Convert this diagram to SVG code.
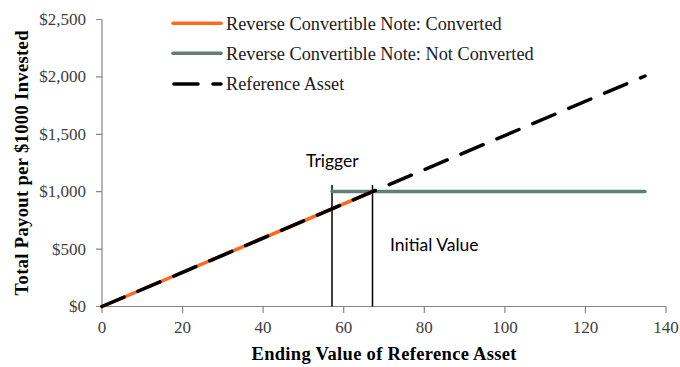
<svg xmlns="http://www.w3.org/2000/svg" width="680" height="367" viewBox="0 0 680 367">
<style>
.ax{stroke:#868686;stroke-width:1.2;fill:none}
.tl{font-family:"Liberation Serif",serif;font-size:17px;fill:#404040}
.tt{font-family:"Liberation Serif",serif;font-size:18.5px;font-weight:bold;fill:#000}
.lg{font-family:"Liberation Serif",serif;font-size:18.3px;fill:#202020}
.an{font-family:Lato,"Liberation Sans",sans-serif;font-size:17.5px;fill:#000}
.or{stroke:#ff6a1f;stroke-width:3.5;fill:none;stroke-linecap:round}
.gr{stroke:#5f7f77;stroke-width:3.5;fill:none;stroke-linecap:round}
.rf{stroke:#000;stroke-width:3.5;fill:none;stroke-linecap:round;stroke-dasharray:24 15}
.vl{stroke:#000;stroke-width:1.5}
</style>
<rect width="680" height="367" fill="#fff"/>
<g id="axes">
<path class="ax" d="M102 19.5V306.5H666"/>
<path class="ax" d="M96 19.5H102M96 76.9H102M96 134.3H102M96 191.7H102M96 249.1H102M96 306.5H102"/>
<path class="ax" d="M102 306.5V313M182.6 306.5V313M263.1 306.5V313M343.7 306.5V313M424.3 306.5V313M504.9 306.5V313M585.4 306.5V313M666 306.5V313"/>
<g class="tl" text-anchor="end">
<text x="86" y="25">$2,500</text>
<text x="86" y="82.4">$2,000</text>
<text x="86" y="139.8">$1,500</text>
<text x="86" y="197.2">$1,000</text>
<text x="86" y="254.6">$500</text>
<text x="86" y="312">$0</text>
</g>
<g class="tl" text-anchor="middle">
<text x="102" y="333">0</text>
<text x="182.6" y="333">20</text>
<text x="263.1" y="333">40</text>
<text x="343.7" y="333">60</text>
<text x="424.3" y="333">80</text>
<text x="504.9" y="333">100</text>
<text x="585.4" y="333">120</text>
<text x="666" y="333">140</text>
</g>
<text class="tt" x="384" y="360" text-anchor="middle" textLength="265">Ending Value of Reference Asset</text>
<text class="tt" transform="translate(28 163) rotate(-90)" text-anchor="middle" textLength="265">Total Payout per $1000 Invested</text>
</g>
<g id="connectors">
<line class="vl" x1="332" y1="185" x2="332" y2="306.5"/>
<line class="vl" x1="372.5" y1="185" x2="372.5" y2="306.5"/>
<line class="gr" x1="332" y1="191.5" x2="645" y2="191.5"/>
<line class="or" x1="102" y1="306.5" x2="372.5" y2="191.7"/>
<line class="rf" x1="102" y1="306.5" x2="645" y2="76"/>
</g>
<g id="legend">
<line class="or" x1="173" y1="23.3" x2="221" y2="23.3"/>
<line class="gr" x1="173" y1="53.3" x2="221" y2="53.3"/>
<line class="rf" x1="174" y1="84" x2="221" y2="84"/>
<text class="lg" x="226" y="29.5">Reverse Convertible Note: Converted</text>
<text class="lg" x="226" y="59.5">Reverse Convertible Note: Not Converted</text>
<text class="lg" x="226" y="90">Reference Asset</text>
</g>
<g id="labels">
<text class="an" x="306" y="166.5">Trigger</text>
<text class="an" x="390" y="251">Initial Value</text>
</g>
</svg>
